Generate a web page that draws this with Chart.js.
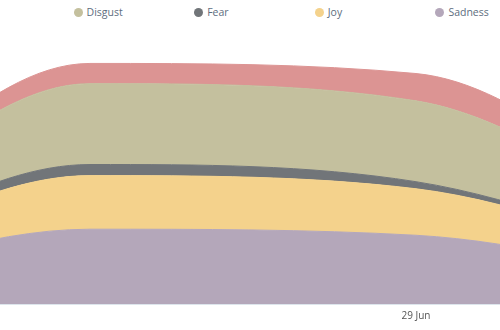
<!DOCTYPE html>
<html>
<head>
<meta charset="utf-8">
<script src="https://cdn.jsdelivr.net/npm/chart.js@4/dist/chart.umd.min.js"></script>
<style>
  html, body { margin: 0; padding: 0; background: #fff; overflow: hidden; }
  #wrap { position: relative; width: 500px; height: 330px; }
  #legend { position: absolute; left: 0; top: 0; width: 500px; height: 24px; overflow: hidden; }
  .item { position: absolute; top: 5px; font: 10.5px "Open Sans", sans-serif; color: #5d6d7e; white-space: nowrap; line-height: 14px; }
  .dot { display: inline-block; width: 9px; height: 9px; border-radius: 50%; margin-right: 4px; vertical-align: -1px; }
  #plot { position: absolute; left: 0; top: 24px; width: 500px; height: 306px; }
</style>
</head>
<body>
<div id="wrap">
  <div id="legend"></div>
  <div id="plot"><canvas id="chart"></canvas></div>
</div>
<script>
// days on the x axis, only 29 Jun falls inside the visible window
const days = ['27 Jun', '28 Jun', '29 Jun', '30 Jun'];
const tickLabels = ['', '', '29 Jun', ''];

// emotion counts per day, stacked bottom to top
const sadness = [6, 74, 68, 12];
const joy = [5, 53, 46, 12];
const fear = [1, 11, 7, 2];
const disgust = [6, 80, 80, 13];
const anger = [2, 20, 27, 2];

const seriesNames = ['Anger', 'Disgust', 'Fear', 'Joy', 'Sadness'];
const colors = {
  Anger: '#dc9493',
  Disgust: '#c4c09e',
  Fear: '#717579',
  Joy: '#f4d28c',
  Sadness: '#b4a7ba'
};

// legend row (Anger sits just off the left edge)
const legend = document.getElementById('legend');
seriesNames.forEach((name, i) => {
  const el = document.createElement('div');
  el.className = 'item';
  el.style.left = (-47 + i * 120.6) + 'px';
  el.innerHTML = `<span class="dot" style="background:${colors[name]}"></span>${name}`;
  legend.appendChild(el);
});

const toPoints = arr => arr.map((v, i) => ({ x: i, y: v }));

const layers = [
  ['Sadness', sadness],
  ['Joy', joy],
  ['Fear', fear],
  ['Disgust', disgust],
  ['Anger', anger]
];

const datasets = layers.map(([name, values], i) => ({
  label: name,
  data: toPoints(values),
  backgroundColor: colors[name],
  borderColor: colors[name],
  borderWidth: 1,
  pointRadius: 0,
  cubicInterpolationMode: 'monotone',
  fill: i === 0 ? 'origin' : '-1'
}));

new Chart(document.getElementById('chart'), {
  type: 'line',
  data: { datasets },
  options: {
    responsive: true,
    maintainAspectRatio: false,
    animation: false,
    layout: { padding: { bottom: 2 } },
    plugins: {
      legend: { display: false },
      tooltip: { enabled: false }
    },
    scales: {
      x: {
        type: 'linear',
        min: 0.724,
        max: 2.2577,
        grid: { display: false, drawTicks: false },
        border: { display: true, color: '#dde5ec', width: 1 },
        afterBuildTicks: axis => { axis.ticks = tickLabels.map((t, i) => ({ value: i })).filter(t => tickLabels[t.value]); },
        ticks: {
          autoSkip: false,
          maxRotation: 0,
          padding: 6,
          color: '#555',
          font: { family: 'Open Sans', size: 10 },
          callback: v => tickLabels[v] || ''
        }
      },
      y: {
        display: false,
        stacked: true,
        min: 0,
        max: 277
      }
    }
  }
});
</script>
</body>
</html>
